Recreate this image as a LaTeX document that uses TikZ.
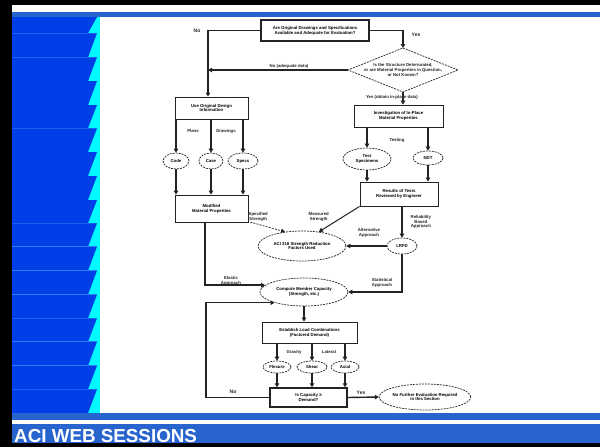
\documentclass[tikz,border=0pt]{standalone}
\usepackage{fontspec}
\setmainfont{Liberation Sans}
\usetikzlibrary{shapes.geometric,arrows.meta}
\definecolor{stripeblue}{RGB}{0,62,232}
\definecolor{seplight}{RGB}{70,160,255}
\definecolor{cyanband}{RGB}{0,250,255}
\definecolor{bandblue}{RGB}{40,100,205}
\definecolor{inkc}{RGB}{35,35,35}
\newcommand\fcfont{\fontsize{4.3}{4.8}\selectfont\bfseries}
\tikzset{
  fbox/.style={draw=inkc, line width=0.9pt, fill=white, inner sep=1pt, align=center, font=\fcfont},
  fboxthick/.style={fbox, line width=1.5pt},
  fell/.style={ellipse, draw=inkc, dashed, dash pattern=on 2pt off 1pt, line width=0.7pt, inner sep=0pt, align=center, font=\fcfont},
  farr/.style={-{Triangle[length=4pt,width=4.5pt]}, line width=1.4pt, draw=inkc},
  fthin/.style={-{Triangle[length=4pt,width=4pt]}, line width=0.7pt, draw=inkc, dashed, dash pattern=on 2pt off 1.2pt},
  flbl/.style={font=\fcfont, align=center, inner sep=0.5pt, text=inkc},
  yesno/.style={font=\fontsize{5}{6}\selectfont\bfseries, inner sep=0.5pt, text=inkc}
}
\begin{document}
\begin{tikzpicture}[x=1pt,y=-1pt]
% ---------- slide background ----------
\fill[black] (0,0) rectangle (600,447);
\fill[white] (12,5) rectangle (600,443);
\fill[bandblue] (12,12) rectangle (600,17);
\fill[cyanband] (12,17) rectangle (100,413);
\foreach \t/\b in {17/33.3, 33.3/57.3, 57.3/81, 81/105, 105/128.3, 128.3/152, 152/176, 176/200, 200/223.3, 223.3/246.7, 246.7/270.7, 270.7/294.7, 294.7/318.3, 318.3/341.7, 341.7/365.7, 365.7/389.3, 389.3/413}{
  \fill[stripeblue] (12,\t) -- (97,\t) -- (88,\b) -- (12,\b) -- cycle;
  \draw[seplight, line width=1pt] (12,\b) -- (97,\b);
}
\fill[bandblue] (12,413) rectangle (600,420);
\fill[white] (12,420) rectangle (600,424);
\fill[bandblue] (12,424) rectangle (600,443);
\node[anchor=base west, inner sep=0, text=white, font=\fontsize{18.8}{19}\selectfont\bfseries] (title) at (14,442) {ACI WEB SESSIONS};

% ---------- flowchart ----------
\node[fboxthick, minimum width=108pt, minimum height=21pt] (top) at (315,30.5)
  {Are Original Drawings and Specifications\\Available and Adequate for Evaluation?};
\node[yesno] (no1) at (197,31) {No};
\node[yesno] (yes1) at (416,35) {Yes};

% diamond
\coordinate (dN) at (403,48);
\coordinate (dE) at (458,70);
\coordinate (dS) at (403,92);
\coordinate (dW) at (348,70);
\draw[inkc, dashed, dash pattern=on 2pt off 1pt, line width=0.7pt] (dN) -- (dE) -- (dS) -- (dW) -- cycle;
\node[flbl] (dia) at (403,70) {Is the Structure Deteriorated,\\or are Material Properties in Question,\\or Not Known?};

\node[fbox, minimum width=73pt, minimum height=22pt] (left) at (211.5,108) {Use Original Design\\Information};
\node[fbox, minimum width=89pt, minimum height=22pt] (test) at (398.5,116) {Investigation of In-Place\\Material Properties};

\draw[farr] (top.west) -| ([xshift=-3.5pt]left.north);
\draw[farr] (top.east) -| (dN);
\coordinate (j1) at (208,70);
\draw[farr] (dW) -- (j1);
\node[flbl] (nolbl) at (289,66) {No (adequate data)};
\draw[farr] (dS) -- (dS |- test.north);
\node[flbl] (yeslbl) at (392,97) {Yes (obtain in-place data)};

% left branch
\node[fell, minimum width=26pt, minimum height=16pt] (e1) at (176,161) {Code};
\node[fell, minimum width=24pt, minimum height=16pt] (e2) at (211,161) {Case};
\node[fell, minimum width=30pt, minimum height=16pt] (e3) at (243,161) {Specs};
\node[flbl] (l1) at (193,131) {Plans};
\node[flbl] (l2) at (226,131) {Drawings};
\foreach \e in {e1,e2,e3}{ \draw[farr] (left.south -| \e.north) -- (\e.north); }
\node[fbox, minimum width=73pt, minimum height=27pt] (mod) at (211.5,208.5) {Modified\\Material Properties};
\foreach \e in {e1,e2,e3}{ \draw[farr] (\e.south) -- (\e.south |- mod.north); }

% right branch
\node[flbl] (tst) at (397,140) {Testing};
\node[fell, minimum width=48pt, minimum height=22pt] (core) at (367,159) {Test\\Specimens};
\node[fell, minimum width=30pt, minimum height=14pt] (ndt) at (428,158) {NDT};
\draw[farr] (test.south -| core.north) -- (core.north);
\draw[farr] (test.south -| ndt.north) -- (ndt.north);
\node[fbox, minimum width=78pt, minimum height=24pt] (res) at (399,194) {Results of Tests\\Reviewed by Engineer};
\draw[farr] (core.south) -- (core.south |- res.north);
\draw[farr] (ndt.south) -- (ndt.south |- res.north);

% middle
\node[fell, minimum width=88pt, minimum height=30pt] (aci) at (302,246) {ACI 318 Strength Reduction\\Factors Used};
\node[flbl, anchor=west] (lab1) at (248,217) {Specified\\Strength};
\node[flbl, anchor=west] (lab2) at (308,217) {Measured\\Strength};
\draw[fthin] ([xshift=-8pt]lab1.south) -- (aci.140);
\draw[farr, line width=1pt] (res.south west) -- (aci.40);

\node[fell, minimum width=30pt, minimum height=16pt] (lrfd) at (402,246) {LRFD};
\draw[farr] (res.south -| lrfd.north) -- (lrfd.north);
\node[flbl, anchor=west] (rel) at (410,222) {Reliability\\Based\\Approach};
\draw[farr] (lrfd.west) -- (aci.east);
\node[flbl] (alt) at (369,233) {Alternative\\Approach};

\node[fell, minimum width=88pt, minimum height=28pt] (cap) at (304,292) {Compute Member Capacity\\(Strength, etc.)};
\draw[farr] (mod.south -| 205,0) |- (cap.170);
\node[flbl] (ela) at (231,281) {Elastic\\Approach};
\draw[farr] (lrfd.south) |- (cap.east);
\node[flbl] (sta) at (382,283) {Statistical\\Approach};

\node[fbox, minimum width=95pt, minimum height=21pt] (est) at (309.5,332.5) {Establish Load Combinations\\(Factored Demand)};
\draw[farr] (cap.south) -- (cap.south |- est.north);

\node[fell, minimum width=28pt, minimum height=12pt] (f1) at (277,367) {Flexure};
\node[fell, minimum width=30pt, minimum height=12pt] (f2) at (312,367) {Shear};
\node[fell, minimum width=28pt, minimum height=12pt] (f3) at (345,367) {Axial};
\node[flbl] (g1) at (294,352) {Gravity};
\node[flbl] (g2) at (329,352) {Lateral};
\foreach \f in {f1,f2,f3}{ \draw[farr] (est.south -| \f.north) -- (\f.north); }

\node[fboxthick, minimum width=77pt, minimum height=19pt] (chk) at (308.5,397.5) {Is Capacity ≥\\Demand?};
\foreach \f in {f1,f2,f3}{ \draw[farr] (\f.south) -- (\f.south |- chk.north); }

\node[fell, minimum width=90pt, minimum height=26pt] (fin) at (425,397) {No Further Evaluation Required\\in this Section};
\draw[farr] (chk.east) -- (fin.west);
\node[yesno] (yes2) at (361,393) {Yes};
\node[yesno] (no2) at (233,392) {No};
\coordinate (loopc) at (206,350);
\draw[farr] (chk.west) -| (loopc) |- (cap.200);
\end{tikzpicture}
\end{document}
